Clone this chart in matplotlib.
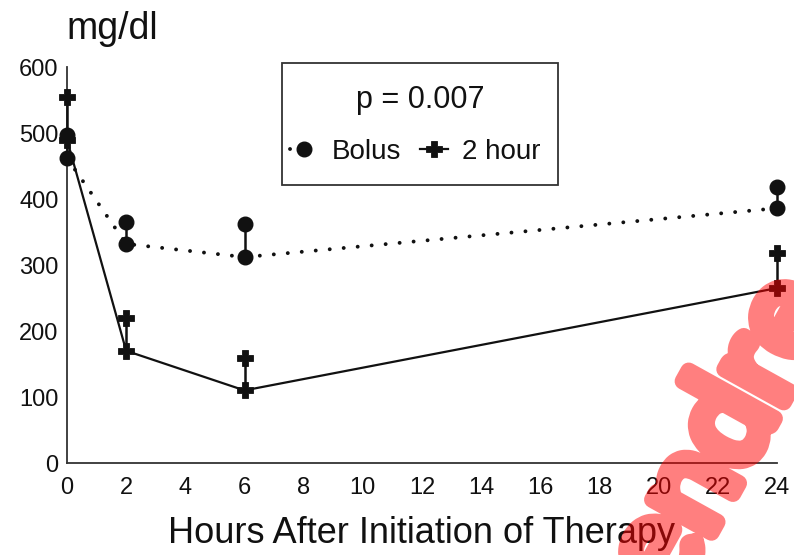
import matplotlib
matplotlib.use("Agg")
import matplotlib.pyplot as plt
import matplotlib.patheffects as pe
from matplotlib.lines import Line2D
from matplotlib.patches import Rectangle

plt.rcParams['font.family'] = ['Liberation Sans', 'DejaVu Sans']

# Hours after initiation of therapy
hours = [0, 2, 6, 24]
x_ticks = [0, 2, 4, 6, 8, 10, 12, 14, 16, 18, 20, 22, 24]
y_ticks = [0, 100, 200, 300, 400, 500, 600]

# Glucose (mg/dl): mean and upper end of the error bar
bolus_mean = [462, 332, 312, 386]
bolus_upper = [497, 365, 362, 418]
twohour_mean = [490, 170, 110, 265]
twohour_upper = [555, 220, 159, 318]

series_names = ["Bolus", "2 hour"]
p_text = "p = 0.007"

W, H = 794, 555
fig = plt.figure(figsize=(W / 100, H / 100), dpi=100)
ax = fig.add_axes([67 / W, 1 - 463 / H, 710 / W, 396 / H])

ink = "#111111"
dotted = (0, (0.01, 3.6))
bolus_style = dict(color=ink, marker='o', markersize=10.5)
twohour_style = dict(color=ink, marker='P', markersize=11.5, markeredgewidth=0.6,
                     markeredgecolor=ink)

# error bars (one-sided, upward) with the series marker at the top
ax.vlines(hours, bolus_mean, bolus_upper, color=ink, lw=1.8, zorder=3, clip_on=False)
ax.vlines(hours, twohour_mean, twohour_upper, color=ink, lw=1.8, zorder=3, clip_on=False)

ax.plot(hours, bolus_mean, ls=dotted, lw=2.8, dash_capstyle='round', zorder=4,
        clip_on=False, **bolus_style)
ax.plot(hours, bolus_upper, ls='none', zorder=4, clip_on=False, **bolus_style)
ax.plot(hours, twohour_mean, ls='-', lw=1.6, zorder=4, clip_on=False, **twohour_style)
ax.plot(hours, twohour_upper, ls='none', zorder=4, clip_on=False, **twohour_style)

ax.set_xlim(0, 24)
ax.set_ylim(0, 600)
ax.set_xticks(x_ticks)
ax.set_yticks(y_ticks)
ax.tick_params(axis='both', length=0, labelsize=17, colors=ink)
ax.tick_params(axis='y', pad=6)
ax.tick_params(axis='x', pad=10)
for s in ['top', 'right']:
    ax.spines[s].set_visible(False)
for s in ['left', 'bottom']:
    ax.spines[s].set_color("#333333")
    ax.spines[s].set_linewidth(1.3)

ax.set_xlabel("Hours After Initiation of Therapy", fontsize=26, color=ink, labelpad=12)
fig.text(66 / W, 1 - 29 / H, "mg/dl", fontsize=27, color=ink, ha='left', va='center')

# legend box: p value above the two series keys
fig.add_artist(Rectangle((282 / W, 1 - 185 / H), 276 / W, 122 / H,
                         transform=fig.transFigure, fill=False,
                         edgecolor="#333333", lw=1.3))
fig.text(420 / W, 1 - 100 / H, p_text, fontsize=22, color=ink, ha='center', va='center')
handles = [
    Line2D([], [], ls=dotted, lw=2.8, dash_capstyle='round', **bolus_style),
    Line2D([], [], ls='-', lw=1.6, **twohour_style),
]
ax.legend(handles, series_names, ncol=2, fontsize=20, frameon=False,
          loc='center', bbox_to_anchor=(415 / W, 1 - 152 / H),
          bbox_transform=fig.transFigure, handlelength=1.0, handletextpad=0.5,
          columnspacing=0.7, borderpad=0, borderaxespad=0, labelcolor=ink)

# red watermark lettering: a thick round-joined outline in translucent red
# (the glyph fill itself is left transparent so the colour is laid down once)
fig.text(722 / W, 1 - 436 / H, "endre", fontsize=96, fontweight='normal',
         family=['Lato', 'DejaVu Sans'], color=(1, 0, 0, 0), rotation=61,
         rotation_mode='anchor', ha='center', va='center', zorder=10,
         path_effects=[pe.Stroke(linewidth=12, foreground=(1, 0, 0, 0.5),
                                 joinstyle='round', capstyle='round')])

fig.savefig("out.png", dpi=100, facecolor='white')
